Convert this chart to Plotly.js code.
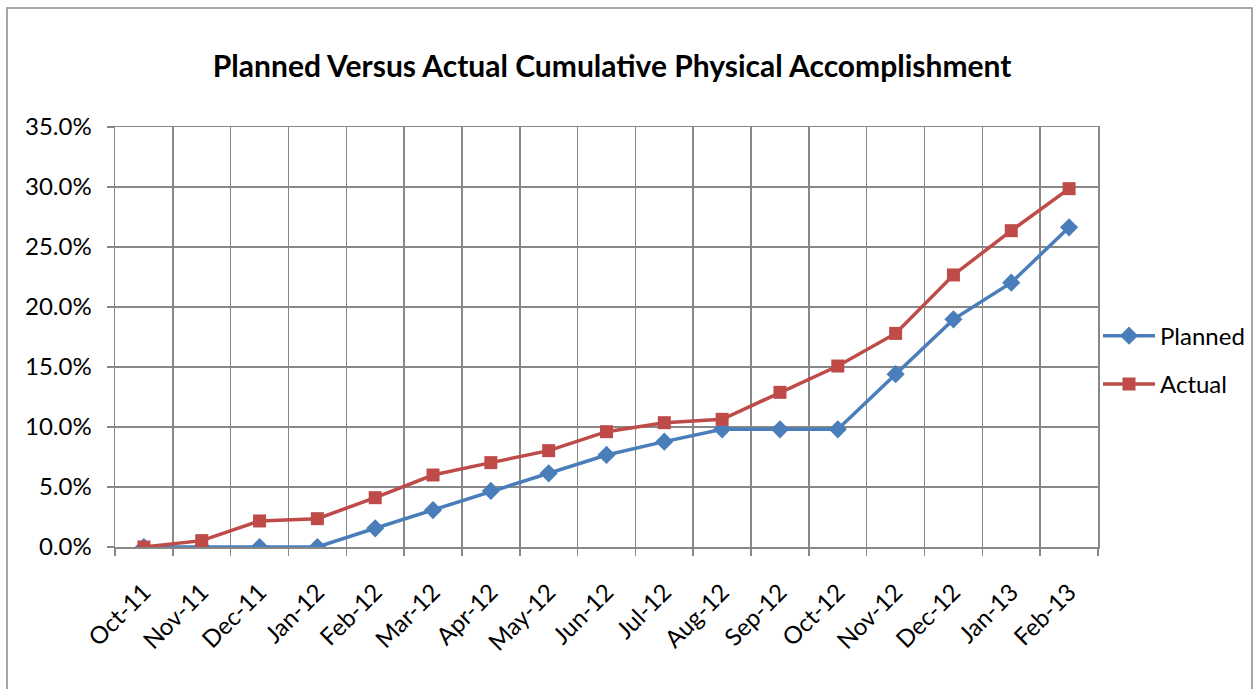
<!DOCTYPE html>
<html>
<head>
<meta charset="utf-8">
<script src="https://cdn.plot.ly/plotly-3.0.1.min.js"></script>
<style>
  html, body { margin: 0; padding: 0; background: #ffffff; }
  #chart { width: 1257px; height: 689px; }
</style>
</head>
<body>
<div id="chart"></div>
<script>
// Data
var months = ["Oct-11", "Nov-11", "Dec-11", "Jan-12", "Feb-12", "Mar-12", "Apr-12", "May-12",
              "Jun-12", "Jul-12", "Aug-12", "Sep-12", "Oct-12", "Nov-12", "Dec-12", "Jan-13", "Feb-13"];
var planned = [0.000, 0.000, 0.000, 0.000, 0.0156, 0.0308, 0.0467, 0.0614,
               0.0767, 0.0878, 0.0981, 0.0981, 0.0981, 0.1440, 0.1897, 0.2203, 0.2664];
var actual  = [0.000, 0.0053, 0.0217, 0.0236, 0.0411, 0.0600, 0.0703, 0.0803,
               0.0961, 0.1036, 0.1064, 0.1289, 0.1508, 0.1780, 0.2267, 0.2636, 0.2986];
var seriesNames = ["Planned", "Actual"];
var titleText = "Planned Versus Actual Cumulative Physical Accomplishment";

var blue = "#4A7EBB";
var red = "#BE4B48";
var gridCol = "#888888";
var fontFam = "Lato, 'Open Sans', sans-serif";

var traces = [
  {
    x: months, y: planned, name: seriesNames[0], type: "scatter", mode: "lines+markers",
    line: { color: blue, width: 3.5 },
    marker: { symbol: "diamond", size: 14, color: blue, line: { width: 0 } },
    legendgroup: "a"
  },
  {
    x: months, y: actual, name: seriesNames[1], type: "scatter", mode: "lines+markers",
    line: { color: red, width: 3.5 },
    marker: { symbol: "square", size: 13, color: red, line: { width: 0 } },
    legendgroup: "b"
  }
];

var layout = {
  width: 1257, height: 689,
  margin: { l: 115, r: 159, t: 127, b: 142, autoexpand: false },
  paper_bgcolor: "#ffffff", plot_bgcolor: "#ffffff",
  font: { family: fontFam, size: 24, color: "#000000" },
  title: {
    text: "<b>" + titleText + "</b>",
    font: { family: fontFam, size: 30, color: "#000000" },
    xref: "container", x: 0.487, xanchor: "center",
    yref: "container", y: 0.903, yanchor: "middle"
  },
  xaxis: {
    type: "category",
    range: [-0.5, 16.5],
    tickson: "boundaries",
    ticks: "outside", ticklen: 7, tickwidth: 1.5, tickcolor: gridCol,
    showgrid: true, gridcolor: gridCol, gridwidth: 1.5,
    showline: true, linecolor: gridCol, linewidth: 1.5, mirror: true,
    tickangle: -45,
    ticklabelstandoff: 20,
    tickfont: { family: fontFam, size: 24, color: "#000000" },
    automargin: false,
    fixedrange: true
  },
  yaxis: {
    range: [0, 0.35], dtick: 0.05, tick0: 0,
    tickformat: ".1%",
    ticks: "outside", ticklen: 7, tickwidth: 1.5, tickcolor: gridCol,
    showgrid: true, gridcolor: gridCol, gridwidth: 1.5,
    zeroline: false,
    showline: true, linecolor: gridCol, linewidth: 1.5, mirror: true,
    ticklabelstandoff: 10,
    tickfont: { family: fontFam, size: 24, color: "#000000" },
    automargin: false,
    fixedrange: true
  },
  legend: {
    x: 1.0, xanchor: "left", y: 0.445, yanchor: "middle",
    font: { family: fontFam, size: 24, color: "#000000" },
    tracegroupgap: 14,
    itemwidth: 52,
    bgcolor: "rgba(0,0,0,0)"
  },
  shapes: [
    {
      type: "rect", xref: "paper", yref: "paper", layer: "below",
      x0: -0.1099, x1: 1.1567, y0: -0.40, y1: 1.2833,
      line: { color: "#8a8a8a", width: 1.5 }, fillcolor: "rgba(0,0,0,0)"
    }
  ],
  showlegend: true
};

Plotly.newPlot("chart", traces, layout, { displayModeBar: false, staticPlot: true });
</script>
</body>
</html>
